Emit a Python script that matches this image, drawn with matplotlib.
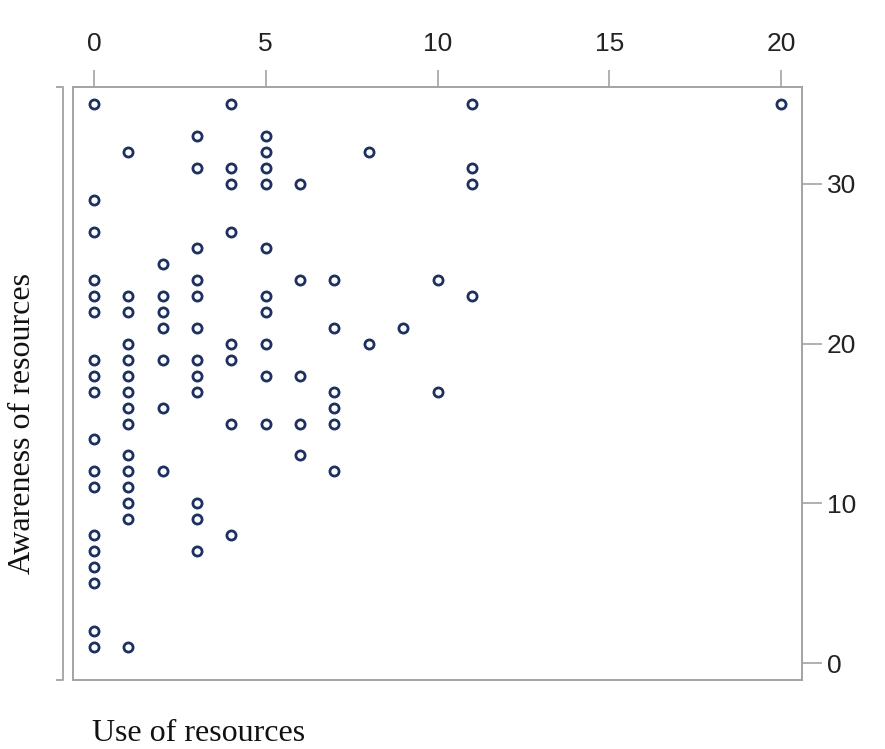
import matplotlib
matplotlib.use("Agg")
import matplotlib.pyplot as plt
from matplotlib.lines import Line2D

# Data (Use of resources, Awareness of resources)
use_of_resources = [
    0, 4, 11, 20,
    3, 5,
    1, 5, 8,
    3, 4, 5, 11,
    4, 5, 6, 11,
    0,
    0, 4,
    3, 5,
    2,
    0, 3, 6, 7, 10,
    0, 1, 2, 3, 5, 11,
    0, 1, 2, 5,
    2, 3, 7, 9,
    1, 4, 5, 8,
    0, 1, 2, 3, 4,
    0, 1, 3, 5, 6,
    0, 1, 3, 7, 10,
    1, 2, 7,
    1, 4, 5, 6, 7,
    0,
    1, 6,
    0, 1, 2, 7,
    0, 1,
    1, 3,
    1, 3,
    0, 4,
    0, 3,
    0,
    0,
    0,
    0, 1,
]
awareness_of_resources = [
    35, 35, 35, 35,
    33, 33,
    32, 32, 32,
    31, 31, 31, 31,
    30, 30, 30, 30,
    29,
    27, 27,
    26, 26,
    25,
    24, 24, 24, 24, 24,
    23, 23, 23, 23, 23, 23,
    22, 22, 22, 22,
    21, 21, 21, 21,
    20, 20, 20, 20,
    19, 19, 19, 19, 19,
    18, 18, 18, 18, 18,
    17, 17, 17, 17, 17,
    16, 16, 16,
    15, 15, 15, 15, 15,
    14,
    13, 13,
    12, 12, 12, 12,
    11, 11,
    10, 10,
    9, 9,
    8, 8,
    7, 7,
    6,
    5,
    2,
    1, 1,
]
x_ticks = [0, 5, 10, 15, 20]
y_ticks = [0, 10, 20, 30]

W, H = 885, 749
fig = plt.figure(figsize=(W / 100, H / 100), dpi=100)
fig.patch.set_facecolor("white")

ax_left, ax_right, ax_top, ax_bottom = 73, 802, 87, 680
ax = fig.add_axes([ax_left / W, 1 - ax_bottom / H,
                   (ax_right - ax_left) / W, (ax_bottom - ax_top) / H])

ax.plot(use_of_resources, awareness_of_resources, linestyle="none",
        marker="o", markersize=6.6, markerfacecolor="none",
        markeredgecolor="#1d3160", markeredgewidth=2.0)

ax.set_xlim(-0.61, 20.61)
ax.set_ylim(-1.06, 36.07)

spine_col = "#a3a3a3"
for s in ax.spines.values():
    s.set_color(spine_col)
    s.set_linewidth(1.4)

ax.xaxis.tick_top()
ax.yaxis.tick_right()
ax.set_xticks(x_ticks)
ax.set_yticks(y_ticks)
ax.tick_params(axis="x", which="both", direction="out", length=12, width=1.2,
               color=spine_col, pad=10, labelsize=19, labelcolor="#222222")
ax.tick_params(axis="y", which="both", direction="out", length=14.5, width=1.2,
               color=spine_col, pad=3.5, labelsize=19, labelcolor="#222222")
for lab in ax.get_xticklabels() + ax.get_yticklabels():
    lab.set_fontfamily("Liberation Sans")

# left bracket
bx, bx2 = 63 / W, 57 / W
by0, by1 = 1 - ax_bottom / H, 1 - ax_top / H
fig.add_artist(Line2D([bx2, bx, bx, bx2], [by1, by1, by0, by0],
                      transform=fig.transFigure, color="#a8a8a8", lw=1.4))

fig.text(23 / W, 1 - 423 / H, "Awareness of resources", rotation=90,
         ha="center", va="center", fontsize=23, family="Liberation Serif",
         color="#111111")
fig.text(92 / W, 1 - 741 / H, "Use of resources", ha="left", va="baseline",
         fontsize=23, family="Liberation Serif", color="#111111")

fig.savefig("out.png", dpi=100, facecolor="white")
